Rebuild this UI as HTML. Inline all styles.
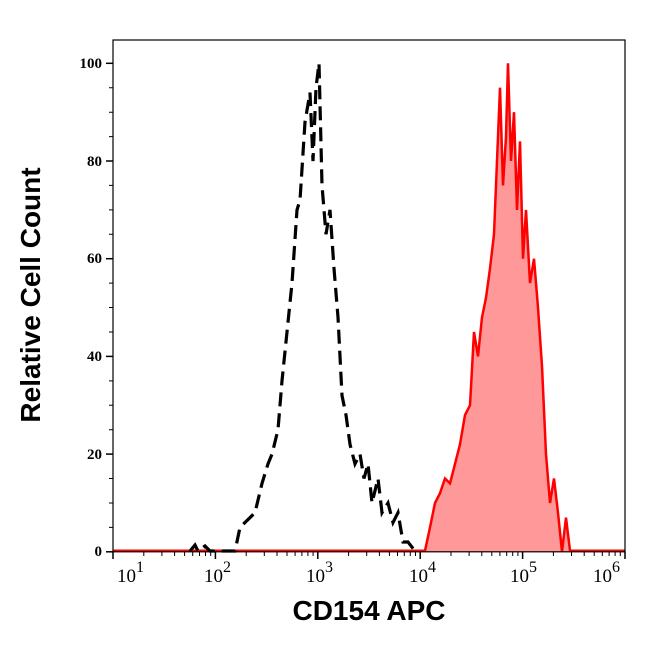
<!DOCTYPE html>
<html><head><meta charset="utf-8"><style>body{margin:0;background:#fff}</style></head><body>
<svg width="646" height="641" xmlns="http://www.w3.org/2000/svg">
<rect width="646" height="641" fill="#fff"/>
<polygon fill="#ff9999" stroke="none" points="425,551.8 430,527.4 435,503 440,493.2 445,478.5 450,483.4 455,463.9 460,444.3 465,415 470,405.3 474,332 478,356.4 482,317.3 486,297.8 490,268.5 494,234.3 497,161 500,87.7 503,185.4 506,136.6 508,63.3 511,161 514,112.2 517,209.9 520,141.4 523,258.7 526,209.9 530,283.1 534,258.7 538,307.5 542,366.2 546,454.1 550,503 554,478.5 558,512.7 562,551.8 566,517.6 570,551.8"/>
<polyline fill="none" stroke="#ff0000" stroke-width="2.5" points="113,550.8 425,550.8 430,527.4 435,503 440,493.2 445,478.5 450,483.4 455,463.9 460,444.3 465,415 470,405.3 474,332 478,356.4 482,317.3 486,297.8 490,268.5 494,234.3 497,161 500,87.7 503,185.4 506,136.6 508,63.3 511,161 514,112.2 517,209.9 520,141.4 523,258.7 526,209.9 530,283.1 534,258.7 538,307.5 542,366.2 546,454.1 550,503 554,478.5 558,512.7 562,551.8 566,517.6 570,550.8 625,550.8"/>
<polyline fill="none" stroke="#000" stroke-width="3.2" stroke-dasharray="14,7" points="190,551 195,545 198,551 205,546 210,551 235,551 240,527.4 255,512.7 262,483.4 268,463.9 272,454.1 278,429.7 282,380.9 287,332 292,283.1 297,209.9 300,200.1 305,122 310,92.6 313,161 316,87.7 319,63.3 322,185.4 326,234.3 330,209.9 334,268.5 338,317.3 342,395.5 346,415 350,444.3 355,463.9 360,454.1 364,478.5 368,463.9 372,503 378,478.5 382,512.7 388,503 393,522.5 398,512.7 403,542 408,542 415,551"/>
<rect x="113" y="40" width="512" height="511.8" fill="none" stroke="#000" stroke-width="1.2"/>
<g stroke="#000" stroke-width="1.5">
<line x1="106" y1="551.8" x2="113" y2="551.8"/><line x1="106" y1="454.1" x2="113" y2="454.1"/><line x1="106" y1="356.4" x2="113" y2="356.4"/><line x1="106" y1="258.7" x2="113" y2="258.7"/><line x1="106" y1="161" x2="113" y2="161"/><line x1="106" y1="63.3" x2="113" y2="63.3"/>
</g>
<g stroke="#000" stroke-width="1">
<path d="M109 527.4H113M109 503H113M109 478.5H113M109 429.7H113M109 405.3H113M109 380.9H113M109 332H113M109 307.5H113M109 283.1H113M109 234.3H113M109 209.9H113M109 185.4H113M109 136.6H113M109 112.2H113M109 87.7H113"/>
</g>
<g stroke="#000" stroke-width="1.5">
<path d="M113 551.8V559M215.4 551.8V559M317.8 551.8V559M420.2 551.8V559M522.6 551.8V559M625 551.8V559"/>
</g>
<g stroke="#000" stroke-width="1">
<path d="M143.8 551.8V556M161.9 551.8V556M174.6 551.8V556M184.6 551.8V556M192.7 551.8V556M199.5 551.8V556M205.5 551.8V556M210.7 551.8V556
M246.2 551.8V556M264.3 551.8V556M277 551.8V556M287 551.8V556M295.1 551.8V556M301.9 551.8V556M307.9 551.8V556M313.1 551.8V556
M348.6 551.8V556M366.7 551.8V556M379.4 551.8V556M389.4 551.8V556M397.5 551.8V556M404.3 551.8V556M410.3 551.8V556M415.5 551.8V556
M451 551.8V556M469.1 551.8V556M481.8 551.8V556M491.8 551.8V556M499.9 551.8V556M506.7 551.8V556M512.7 551.8V556M517.9 551.8V556
M553.4 551.8V556M571.5 551.8V556M584.2 551.8V556M594.2 551.8V556M602.3 551.8V556M609.1 551.8V556M615.1 551.8V556M620.3 551.8V556"/>
</g>
<g font-family="Liberation Serif, serif" font-size="15" font-weight="bold" text-anchor="end" fill="#000">
<text x="102" y="556">0</text><text x="102" y="459">20</text><text x="102" y="361">40</text><text x="102" y="263">60</text><text x="102" y="166">80</text><text x="102" y="68">100</text>
</g>
<g font-family="Liberation Serif, serif" font-size="19" fill="#000">
<text x="117" y="582">10<tspan font-size="16" dy="-10">1</tspan></text>
<text x="204" y="582">10<tspan font-size="16" dy="-10">2</tspan></text>
<text x="306" y="582">10<tspan font-size="16" dy="-10">3</tspan></text>
<text x="409" y="582">10<tspan font-size="16" dy="-10">4</tspan></text>
<text x="510" y="582">10<tspan font-size="16" dy="-10">5</tspan></text>
<text x="593" y="582">10<tspan font-size="16" dy="-10">6</tspan></text>
</g>
<text x="369" y="620" text-anchor="middle" font-family="Liberation Sans, sans-serif" font-weight="bold" font-size="28">CD154 APC</text>
<text transform="translate(40,295) rotate(-90)" text-anchor="middle" font-family="Liberation Sans, sans-serif" font-weight="bold" font-size="28">Relative Cell Count</text>
</svg>
</body></html>
